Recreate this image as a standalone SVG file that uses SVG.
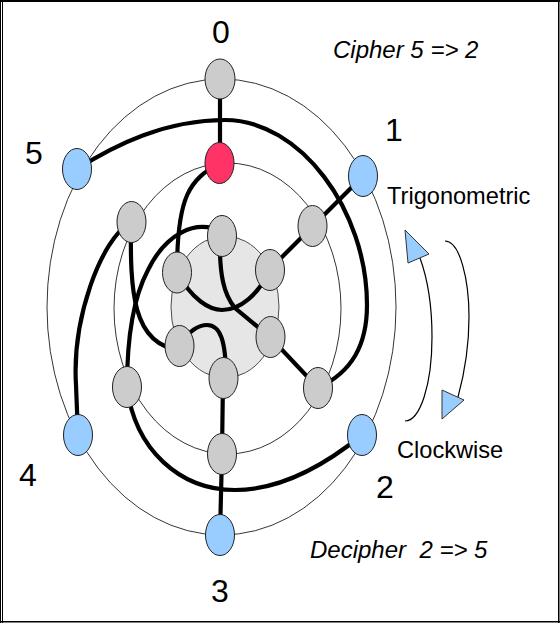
<svg xmlns="http://www.w3.org/2000/svg" width="560" height="623" viewBox="0 0 560 623">
<style>
text{font-family:"Liberation Sans",Arial,sans-serif;fill:#000}
.num{font-size:32px;text-anchor:middle}
.lab{font-size:23.6px}
.ital{font-size:24px;font-style:italic}
.ring{fill:none;stroke:#000;stroke-width:.8}
.thin{fill:none;stroke:#000;stroke-width:1.2}
.wire{fill:none;stroke:#000;stroke-width:4.2;stroke-linecap:round}
.n{stroke:#222;stroke-width:1}
.gray{fill:#cccccc}
.blue{fill:#99ccff}
.red{fill:#ff3366}
.tri{fill:#99ccff;stroke:#333;stroke-width:1}
</style>
<rect width="560" height="623" fill="#fff"/>
<g id="frame" fill="#000">
<rect x="0" y="0" width="560" height="2"/>
<rect x="0" y="0" width="1" height="623"/>
<rect x="2" y="0" width="1" height="623"/>
<rect x="558" y="0" width="1.500" height="623"/>
<rect x="0" y="621" width="560" height="1.500"/>
</g>
<g id="rings">
<ellipse class="ring" cx="221.500" cy="307" rx="174.500" ry="228"/>
<ellipse class="ring" cx="227.500" cy="308.500" rx="113.500" ry="145.500"/>
<ellipse cx="225" cy="307" rx="54" ry="71" fill="#e6e6e6" stroke="#222" stroke-width=".8"/>
</g>
<g id="connectors">
<path class="wire" d="M220,79V163"/>
<path class="wire" d="M77,169C115,145 165,120 225,120C300,120 367,210 367,305C367,345 352,372 318,388"/>
<path class="wire" d="M363,176L270,269"/>
<path class="wire" d="M219.500,163C190,180 177,195 177,272"/>
<path class="wire" d="M222,232C195,218 165,235 148,270C132,300 127,340 127,387"/>
<path class="wire" d="M131,222C130,290 132,345 180,350"/>
<path class="wire" d="M131,222C100,240 72,320 76,385L78,435"/>
<path class="wire" d="M177,272C192,300 210,310 222,310C240,310 258,295 270,270"/>
<path class="wire" d="M220,236C219,275 224,295 235,308L270,337L318,388"/>
<path class="wire" d="M180,346C188,330 200,325 207,325C220,325 226,340 226,378"/>
<path class="wire" d="M223,378L222,454L220,535"/>
<path class="wire" d="M127,387C135,450 180,490 235,490C280,490 325,465 362,435"/>
</g>
<g id="node-outer-0"><ellipse class="n gray" cx="220" cy="79" rx="15" ry="20"/></g>
<g id="node-red"><ellipse class="n red" cx="219.500" cy="163" rx="14.500" ry="20.500"/></g>
<g id="node-outer-1"><ellipse class="n blue" cx="363" cy="176" rx="14.500" ry="20.500"/></g>
<g id="node-outer-5"><ellipse class="n blue" cx="77" cy="169" rx="14.500" ry="20.500"/></g>
<g id="node-outer-2"><ellipse class="n blue" cx="362" cy="435" rx="14.500" ry="20.500"/></g>
<g id="node-outer-4"><ellipse class="n blue" cx="78" cy="435" rx="14.500" ry="20.500"/></g>
<g id="node-outer-3"><ellipse class="n blue" cx="220" cy="535" rx="14.500" ry="20.500"/></g>
<g id="node-mid-1"><ellipse class="n gray" cx="131.500" cy="222" rx="14.500" ry="20.500"/></g>
<g id="node-mid-2"><ellipse class="n gray" cx="312.500" cy="226" rx="14.500" ry="20.500"/></g>
<g id="node-mid-3"><ellipse class="n gray" cx="127" cy="387" rx="14.500" ry="20.500"/></g>
<g id="node-mid-4"><ellipse class="n gray" cx="318" cy="388" rx="14.500" ry="20.500"/></g>
<g id="node-mid-5"><ellipse class="n gray" cx="222" cy="454" rx="14.500" ry="20.500"/></g>
<g id="node-in-1"><ellipse class="n gray" cx="222" cy="236" rx="14.500" ry="20.500"/></g>
<g id="node-in-2"><ellipse class="n gray" cx="177" cy="272.500" rx="14.500" ry="20.500"/></g>
<g id="node-in-3"><ellipse class="n gray" cx="270" cy="270" rx="14.500" ry="20.500"/></g>
<g id="node-in-4"><ellipse class="n gray" cx="179.500" cy="346" rx="14.500" ry="20.500"/></g>
<g id="node-in-5"><ellipse class="n gray" cx="270.500" cy="337" rx="14.500" ry="20.500"/></g>
<g id="node-in-6"><ellipse class="n gray" cx="223.500" cy="378" rx="14.500" ry="20.500"/></g>
<g id="rotation">
<path class="thin" d="M420,258C428,280 432,310 432,337C432,385 420,421 405,421"/>
<path class="thin" d="M445,241C460,241 469,280 469,317C469,350 464,375 458,397"/>
<polygon class="tri" points="405,230 429,254 408,263"/>
<polygon class="tri" points="442,390 464,400 442,419"/>
</g>
<g id="labels">
<text class="num" x="221" y="43">0</text>
<text class="num" x="394" y="141">1</text>
<text class="num" x="385" y="498">2</text>
<text class="num" x="220" y="602">3</text>
<text class="num" x="28" y="486">4</text>
<text class="num" x="34" y="164">5</text>
<text class="ital" x="333" y="58">Cipher 5 =&gt; 2</text>
<text class="ital" x="310" y="558" xml:space="preserve">Decipher  2 =&gt; 5</text>
<text class="lab" x="387" y="204">Trigonometric</text>
<text class="lab" x="397" y="458">Clockwise</text>
</g>
</svg>
